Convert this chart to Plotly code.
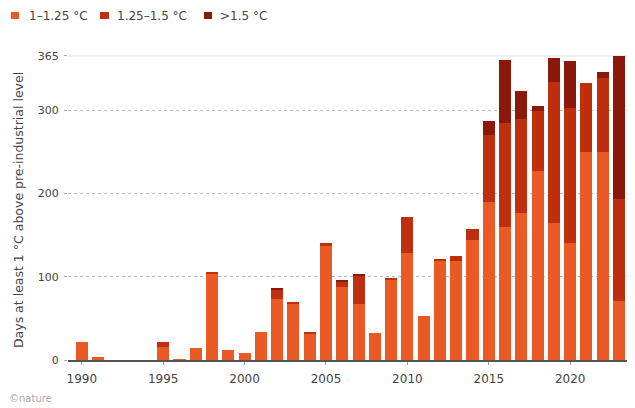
import plotly.graph_objects as go

years = list(range(1990, 2024))

# days per year in each band
band_1_125 = [22, 4, 0, 0, 0, 16, 1, 15, 103, 12, 8, 34, 73, 67, 31, 137, 88, 67, 33, 96,
              128, 53, 119, 119, 144, 190, 160, 177, 227, 165, 140, 250, 250, 71]
band_125_15 = [0, 0, 0, 0, 0, 6, 0, 0, 3, 0, 0, 0, 12, 3, 3, 3, 6, 34, 0, 2,
               44, 0, 2, 6, 13, 80, 124, 112, 72, 169, 162, 82, 88, 122]
band_15 = [0, 0, 0, 0, 0, 0, 0, 0, 0, 0, 0, 0, 1, 0, 0, 0, 2, 2, 0, 0,
           0, 0, 0, 0, 0, 17, 76, 34, 6, 29, 57, 0, 8, 172]

names = ["1–1.25 °C", "1.25–1.5 °C", ">1.5 °C"]
colors = ["#e95a24", "#be2f10", "#8c170b"]

font = "DejaVu Sans, Liberation Sans, sans-serif"

fig = go.Figure()
for vals, name, col in zip([band_1_125, band_125_15, band_15], names, colors):
    fig.add_trace(go.Bar(x=years, y=vals, name=name, marker_color=col,
                         marker_line_width=0, showlegend=False))

# solid light line at the 365 mark
fig.add_shape(type="line", xref="paper", x0=0, x1=1, yref="y", y0=365, y1=365,
              line=dict(color="#ececec", width=2), layer="below")

# hand-made legend above the plot (pixel offsets from plot's top-left)
legend_sq = [(-57, -49), (32, 41), (136, 144)]
legend_tx = [-41, 47, 150]
for name, col, (a, b), tx in zip(names, colors, legend_sq, legend_tx):
    fig.add_shape(type="rect", xref="paper", yref="paper",
                  xsizemode="pixel", ysizemode="pixel", xanchor=0, yanchor=1,
                  x0=a, x1=b, y0=36, y1=43, fillcolor=col, line_width=0)
    fig.add_annotation(text=name, xref="paper", yref="paper", x=0, y=1,
                       xshift=tx, yshift=39.5, xanchor="left", yanchor="middle",
                       showarrow=False, font=dict(family=font, size=12, color="#444"))

fig.add_annotation(text="Days at least 1 °C above pre-industrial level",
                   xref="paper", yref="paper", x=0, y=0.49, xshift=-59,
                   textangle=-90, showarrow=False,
                   font=dict(family=font, size=12.5, color="#444"))
fig.add_annotation(text="©nature", xref="paper", yref="paper", x=0, y=0,
                   xshift=-61, yshift=-38, xanchor="left", yanchor="middle",
                   showarrow=False, font=dict(family=font, size=10, color="#aaa"))

# page body has an 8px margin, so the figure is sized to fill the rest
fig.update_layout(
    barmode="stack",
    bargap=0.26,
    width=627, height=400,
    margin=dict(l=60, r=3, t=47, b=48, autoexpand=False),
    paper_bgcolor="white", plot_bgcolor="white",
    font=dict(family=font, size=11, color="#444"),
    showlegend=False,
)

fig.update_xaxes(range=[1989.15, 2023.8], tickvals=[1990, 1995, 2000, 2005, 2010, 2015, 2020],
                 ticks="outside", ticklen=3, tickcolor="#999", showgrid=False,
                 showline=True, linecolor="#555", linewidth=2, ticklabelstandoff=4,
                 tickfont=dict(size=12, color="#444"))
fig.update_yaxes(range=[0, 366], tickvals=[0, 100, 200, 300, 365],
                 ticks="outside", ticklen=3, tickcolor="#aaa", ticklabelstandoff=3,
                 showgrid=True, gridcolor="#bbb", griddash="dot", gridwidth=1,
                 zeroline=False, tickfont=dict(size=11, color="#444"))

fig.write_html("out.html")
